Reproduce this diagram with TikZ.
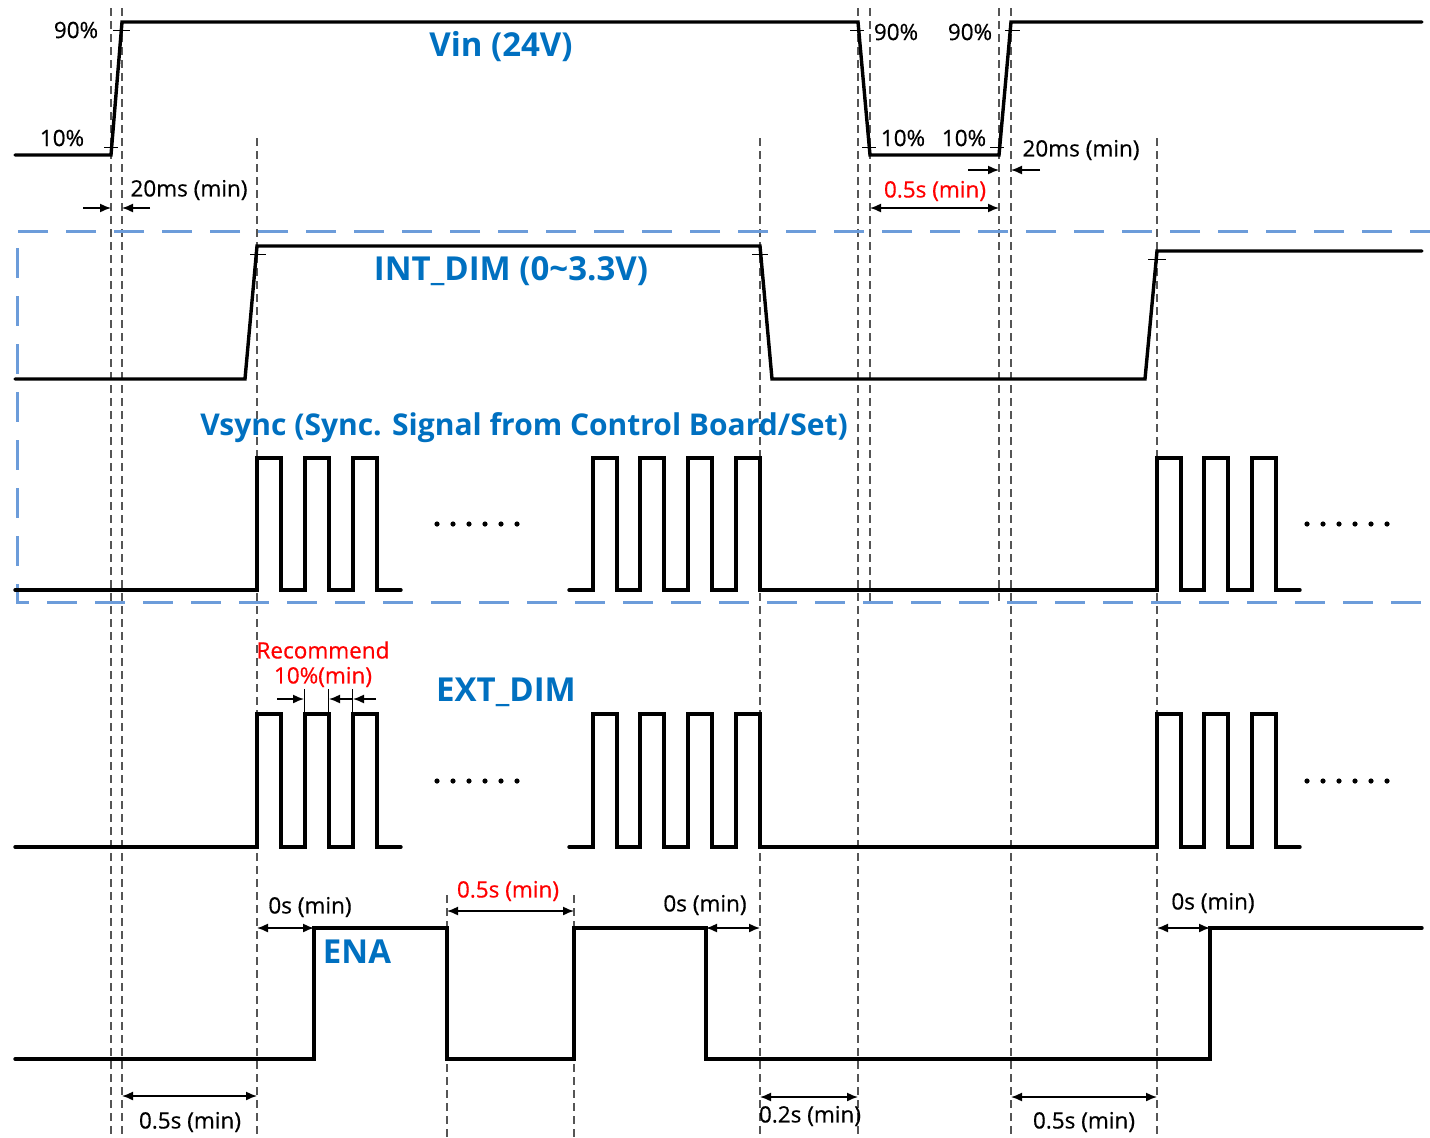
\documentclass[tikz,border=0pt]{standalone}
\usepackage{fontspec}
\setmainfont{Open Sans}
\usetikzlibrary{arrows.meta}

\definecolor{sigblue}{RGB}{0,112,192}
\definecolor{boxblue}{RGB}{108,156,218}
\definecolor{guidegray}{RGB}{85,85,85}

\begin{document}
\begin{tikzpicture}[
    x=1pt, y=-1pt,
    sig/.style = {
        line width=3.4pt,
        line join=miter,
        line cap=round
    },
    guide/.style = {
        draw=guidegray,
        line width=1.3pt,
        dash pattern=on 8pt off 5pt
    },
    tickmark/.style = {line width=1pt},
    dim/.style = {{Latex[length=11pt,width=9pt]}-{Latex[length=11pt,width=9pt]}, line width=1.5pt},
    pointer/.style = {-{Latex[length=11pt,width=9pt]}, line width=1.5pt},
    lbl/.style = {font=\fontsize{22.5}{26}\selectfont\addfontfeature{FakeBold=0.5}, inner sep=0pt},
    warn/.style = {lbl, text=red},
    signame/.style = {
        font=\fontsize{33}{38}\selectfont\bfseries,
        text=sigblue,
        inner sep=0pt
    },
    region/.style = {
        draw=boxblue,
        line width=3pt,
        dash pattern=on 30pt off 18pt
    }
]

\useasboundingbox (0,0) rectangle (1430,1138);

%% ── Guide lines ─────────────────────────────────────────────────────────────

\foreach \x/\ya/\yb in {111/8/1138, 122/8/1138, 257/138/1138, 760/138/1138,
                        858/8/1138, 870/8/605, 999/8/605, 1011/8/1138,
                        1157/138/1138, 447/895/1138, 574/895/1138}
    \draw[guide] (\x,\ya) -- (\x,\yb);

%% ── Sync region ─────────────────────────────────────────────────────────────

\draw[region] (1440,231) -- (17,231) -- (17,602) -- (1440,602);

%% ── Vin ─────────────────────────────────────────────────────────────────────

\draw[sig] (15,155) -- (111,155) -- (122,22) -- (858,22) -- (870,155)
    -- (999,155) -- (1011,22) -- (1422,22);

\draw[tickmark] (104,147) -- (118,147);
\draw[tickmark] (113,30)  -- (130,30);
\draw[tickmark] (850,30)  -- (864,30);
\draw[tickmark] (862,147) -- (876,147);
\draw[tickmark] (990,147) -- (1004,147);
\draw[tickmark] (1005,30) -- (1020,30);

\node[lbl] (vin90a) at (76,30)   {90\%};
\node[lbl] (vin10a) at (62,138)  {10\%};
\node[lbl] (vin90b) at (896,32)  {90\%};
\node[lbl] (vin90c) at (970,32)  {90\%};
\node[lbl] (vin10b) at (903,138) {10\%};
\node[lbl] (vin10c) at (964,138) {10\%};

\node[signame] (vin) at (501,47) {Vin (24V)};

% 20ms at power-on
\coordinate (onA)  at (83,208);
\coordinate (onB)  at (111,208);
\coordinate (onC)  at (150,208);
\coordinate (onD)  at (122,208);
\draw[pointer] (onA) -- (onB);
\draw[pointer] (onC) -- (onD);
\node[lbl] (on20) at (189,190) {20ms (min)};

% 20ms at restart
\coordinate (reA) at (968,170);
\coordinate (reB) at (999,170);
\coordinate (reC) at (1040,170);
\coordinate (reD) at (1011,170);
\draw[pointer] (reA) -- (reB);
\draw[pointer] (reC) -- (reD);
\node[lbl] (re20) at (1081,150) {20ms (min)};

% off time
\coordinate (offA) at (870,208);
\coordinate (offB) at (999,208);
\draw[dim] (offA) -- (offB);
\node[warn] (off05) at (935,191) {0.5s (min)};

%% ── INT_DIM ─────────────────────────────────────────────────────────────────

\draw[sig] (15,379) -- (245,379) -- (257,246) -- (760,246) -- (772,379)
    -- (1145,379) -- (1157,251) -- (1422,251);

\draw[tickmark] (250,254)  -- (266,254);
\draw[tickmark] (752,254)  -- (768,254);
\draw[tickmark] (1148,259) -- (1166,259);

\node[signame] (intdim) at (511,271) {INT\_DIM (0\textasciitilde3.3V)};

%% ── Vsync ───────────────────────────────────────────────────────────────────

\node[signame, font=\fontsize{30}{36}\selectfont\bfseries] (vsync) at (524,428)
    {Vsync (Sync. Signal from Control Board/Set)};

\draw[sig] (15,590) \foreach \x in {257,305,353} {
    -- (\x,590) -- (\x,458) -- (\x+24,458) -- (\x+24,590) } -- (401,590);
\draw[sig] (569,590) \foreach \x in {593,640,688,736,1157,1204,1252} {
    -- (\x,590) -- (\x,458) -- (\x+24,458) -- (\x+24,590) } -- (1300,590);

\foreach \i in {0,...,5} {
    \fill (437+16*\i,524)  circle (2.6pt);
    \fill (1307+16*\i,524) circle (2.6pt);
}

%% ── EXT_DIM ─────────────────────────────────────────────────────────────────

\node[signame] (extdim) at (506,692) {EXT\_DIM};

\draw[sig] (15,847) \foreach \x in {257,305,353} {
    -- (\x,847) -- (\x,714) -- (\x+24,714) -- (\x+24,847) } -- (401,847);
\draw[sig] (569,847) \foreach \x in {593,640,688,736,1157,1204,1252} {
    -- (\x,847) -- (\x,714) -- (\x+24,714) -- (\x+24,847) } -- (1300,847);

\foreach \i in {0,...,5} {
    \fill (437+16*\i,781)  circle (2.6pt);
    \fill (1307+16*\i,781) circle (2.6pt);
}

% duty recommendation
\node[warn] (recA) at (323,650) {Recommend};
\node[warn] (recB) at (323,677) {10\%(min)};
\foreach \x in {304,328,352}
    \draw[tickmark] (\x,689) -- (\x,714);
\coordinate (dtA) at (277,699);
\coordinate (dtB) at (304,699);
\coordinate (dtC) at (352,699);
\coordinate (dtD) at (329,699);
\coordinate (dtE) at (376,699);
\coordinate (dtF) at (353,699);
\draw[pointer] (dtA) -- (dtB);
\draw[pointer] (dtC) -- (dtD);
\draw[pointer] (dtE) -- (dtF);

%% ── ENA ─────────────────────────────────────────────────────────────────────

\draw[sig] (15,1059) -- (314,1059) -- (314,928) -- (447,928) -- (447,1059)
    -- (574,1059) -- (574,928) -- (706,928) -- (706,1059) -- (1210,1059)
    -- (1210,928) -- (1422,928);

\node[signame] (ena) at (357,952) {ENA};

\coordinate (enA) at (257,928);
\coordinate (enB) at (314,928);
\draw[dim] (enA) -- (enB);
\node[lbl] (en0a) at (310,907) {0s (min)};

\coordinate (enC) at (447,911);
\coordinate (enD) at (574,911);
\draw[dim] (enC) -- (enD);
\node[warn] (en05) at (508,891) {0.5s (min)};

\coordinate (enE) at (706,928);
\coordinate (enF) at (760,928);
\draw[dim] (enE) -- (enF);
\node[lbl] (en0b) at (705,905) {0s (min)};

\coordinate (enG) at (1157,928);
\coordinate (enH) at (1210,928);
\draw[dim] (enG) -- (enH);
\node[lbl] (en0c) at (1213,903) {0s (min)};

%% ── Bottom timings ──────────────────────────────────────────────────────────

\coordinate (btA) at (122,1096);
\coordinate (btB) at (257,1096);
\draw[dim] (btA) -- (btB);
\node[lbl] (bt05a) at (190,1122) {0.5s (min)};

\coordinate (btC) at (760,1097);
\coordinate (btD) at (858,1097);
\draw[dim] (btC) -- (btD);
\node[lbl] (bt02) at (810,1116) {0.2s (min)};

\coordinate (btE) at (1011,1097);
\coordinate (btF) at (1157,1097);
\draw[dim] (btE) -- (btF);
\node[lbl] (bt05b) at (1084,1122) {0.5s (min)};

\end{tikzpicture}
\end{document}
